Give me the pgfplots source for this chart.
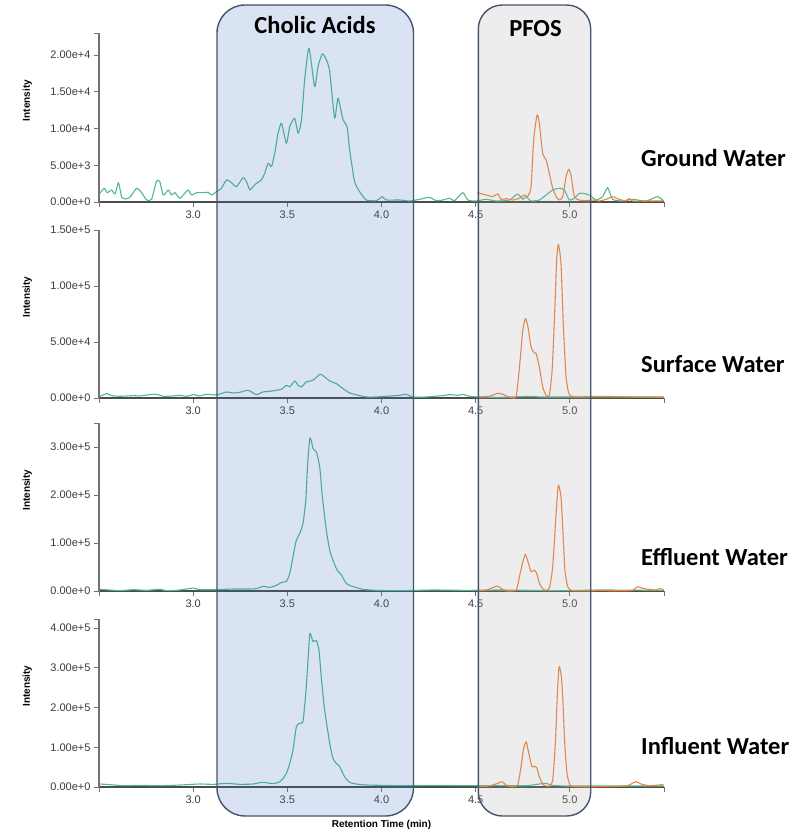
\documentclass[border=0pt]{standalone}
\usepackage{pgfplots}
\pgfplotsset{compat=1.18}
\usepackage{fontspec}
\setmainfont{Liberation Sans}
\newfontfamily\calibri{Carlito}
\definecolor{grn}{RGB}{78,184,148}
\definecolor{org}{RGB}{236,130,62}
\definecolor{boxblue}{RGB}{68,114,196}
\definecolor{boxgray}{RGB}{165,165,165}
\definecolor{boxedge}{RGB}{68,84,106}
\definecolor{axgray}{RGB}{115,115,115}
\definecolor{txtgray}{RGB}{60,60,60}
\pgfplotsset{
 chrom/.style={
  scale only axis, width=565pt,
  xmin=2.5, xmax=5.5, ymin=0,
  axis lines=left,
  axis line style={-, axgray, line width=1.2pt},
  x axis line style={black!70},
  scaled y ticks=false, scaled x ticks=false,
  xtick={3.0,3.5,4.0,4.5,5.0},
  xticklabels={3.0,3.5,4.0,4.5,5.0},
  extra x ticks={2.5,5.5}, extra x tick labels={{},{}},
  tick align=outside, major tick length=5pt,
  tick style={axgray, line width=1pt},
  ticklabel style={font=\fontsize{11}{13}\selectfont, text=txtgray},
  ylabel={Intensity},
  ylabel style={at={(axis description cs:-0.127,0.6)}, anchor=center, font=\bfseries\fontsize{10}{12}\selectfont},
  every axis plot/.append style={line width=1.1pt, line join=round, smooth, tension=0.35},
 }
}
\begin{document}
\begin{tikzpicture}
\useasboundingbox (0,0) rectangle (796pt,-832pt);
% Panel 1: Ground Water
\begin{axis}[chrom, at={(99pt,-202pt)}, anchor=south west, height=169pt, ymax=23000,
  ytick={0,5000,10000,15000,20000},
  yticklabels={0.00e+0,5.00e+3,1.00e+4,1.50e+4,2.00e+4},
  extra y ticks={23000}, extra y tick labels={{}}]
\addplot[grn] coordinates {
(2.505,1181)(2.527,1863)(2.544,1272)(2.567,1635)(2.585,1090)(2.603,2635)(2.620,727)(2.638,409)(2.664,636)(2.700,1863)(2.726,1272)(2.753,273)(2.779,363)(2.806,2862)(2.823,2771)(2.841,954)(2.868,1635)(2.885,954)(2.903,1272)(2.929,500)(2.947,954)(2.974,1635)(2.991,954)(3.018,1272)(3.053,1272)(3.080,1317)(3.097,954)(3.124,1408)(3.150,1863)(3.177,2998)(3.203,2635)(3.230,2090)(3.265,3316)(3.283,2771)(3.301,1635)(3.318,2090)(3.336,2544)(3.362,2998)(3.380,3907)(3.398,5270)(3.416,4816)(3.433,6633)(3.451,9359)(3.469,10722)(3.495,7996)(3.513,10267)(3.539,11403)(3.557,9359)(3.575,11176)(3.592,16627)(3.615,20943)(3.645,15719)(3.663,18445)(3.686,20171)(3.707,19354)(3.725,17763)(3.751,11403)(3.769,14128)(3.796,11176)(3.817,10267)(3.831,7087)(3.857,2771)(3.884,1408)(3.919,273)(3.972,182)(4.004,727)(4.025,273)(4.096,273)(4.149,136)(4.202,363)(4.255,636)(4.290,182)(4.326,273)(4.361,500)(4.388,182)(4.432,1272)(4.458,273)(4.502,136)(4.556,363)(4.609,136)(4.679,273)(4.723,1090)(4.750,363)(4.768,727)(4.794,136)(4.838,273)(4.874,954)(4.909,1635)(4.944,1863)(4.971,1635)(4.997,273)(5.024,500)(5.050,1181)(5.086,1090)(5.112,818)(5.139,273)(5.174,727)(5.201,1953)(5.227,363)(5.280,136)(5.333,363)(5.404,136)(5.466,727)(5.498,136)};
\addplot[org] coordinates {
(4.508,1272)(4.556,954)(4.591,727)(4.617,1090)(4.635,363)(4.662,454)(4.697,273)(4.732,500)(4.759,954)(4.776,727)(4.794,2090)(4.808,8450)(4.826,11857)(4.838,10722)(4.856,6633)(4.874,5724)(4.891,3907)(4.909,1863)(4.927,727)(4.944,273)(4.962,727)(4.980,3453)(4.994,4452)(5.006,3680)(5.024,727)(5.050,273)(5.086,182)(5.121,273)(5.156,136)(5.192,363)(5.227,727)(5.262,363)(5.298,136)(5.315,500)(5.333,136)(5.404,136)(5.498,136)};
\end{axis}
% Panel 2: Surface Water
\begin{axis}[chrom, at={(99pt,-398pt)}, anchor=south west, height=168pt, ymax=150000,
  ytick={0,50000,100000,150000},
  yticklabels={0.00e+0,5.00e+4,1.00e+5,1.50e+5}]
\addplot[grn] coordinates {
(2.505,1521)(2.541,3906)(2.567,2117)(2.611,1521)(2.682,2117)(2.717,1819)(2.753,2714)(2.806,3310)(2.841,1521)(2.894,1819)(2.929,2415)(2.965,1521)(3.000,3012)(3.035,1819)(3.071,3310)(3.124,2714)(3.177,5397)(3.212,4503)(3.248,5099)(3.292,6889)(3.336,3012)(3.371,5397)(3.407,5994)(3.442,6889)(3.469,7783)(3.495,11361)(3.513,9870)(3.539,15238)(3.557,11361)(3.575,9870)(3.601,14343)(3.636,15834)(3.675,21202)(3.698,18817)(3.725,15238)(3.760,12852)(3.796,8379)(3.831,4503)(3.884,2117)(3.919,924)(3.972,924)(4.096,2415)(4.131,3310)(4.167,924)(4.237,924)(4.326,2117)(4.361,3012)(4.405,2415)(4.432,3310)(4.467,1521)(4.520,924)(4.626,626)(4.803,1521)(4.838,924)(4.980,924)(5.156,924)(5.498,924)};
\addplot[org] coordinates {
(4.508,924)(4.573,1521)(4.617,4205)(4.644,3310)(4.679,924)(4.715,1521)(4.736,33727)(4.750,60565)(4.764,71002)(4.776,65037)(4.794,45655)(4.807,41182)(4.821,39691)(4.838,27763)(4.856,9870)(4.874,2415)(4.891,2415)(4.906,24781)(4.920,78458)(4.930,123187)(4.939,137202)(4.953,120205)(4.966,63548)(4.980,18817)(4.997,3012)(5.033,924)(5.156,1521)(5.333,924)(5.498,626)};
\end{axis}
% Panel 3: Effluent Water
\begin{axis}[chrom, at={(99pt,-591pt)}, anchor=south west, height=168pt, ymax=350000,
  ytick={0,100000,200000,300000},
  yticklabels={0.00e+0,1.00e+5,2.00e+5,3.00e+5},
  extra y ticks={350000}, extra y tick labels={{}}]
\addplot[grn] coordinates {
(2.505,3465)(2.558,2079)(2.611,693)(2.682,2772)(2.753,1386)(2.823,3465)(2.859,693)(2.929,2079)(3.000,6237)(3.035,2772)(3.124,2772)(3.212,4158)(3.283,4158)(3.336,4851)(3.371,9702)(3.407,7623)(3.442,11781)(3.469,18018)(3.495,20097)(3.513,36729)(3.530,71379)(3.548,106029)(3.566,119889)(3.583,140679)(3.598,189189)(3.608,265419)(3.619,317394)(3.628,312543)(3.636,296604)(3.654,289674)(3.672,258489)(3.686,196119)(3.707,126819)(3.725,85239)(3.742,64449)(3.764,43659)(3.787,33264)(3.813,15939)(3.849,9009)(3.902,3465)(3.972,1386)(4.096,693)(4.273,2079)(4.449,1386)(4.626,2079)(4.803,1386)(4.980,693)(5.156,2079)(5.498,1386)};
\addplot[org] coordinates {
(4.508,693)(4.556,2079)(4.591,6930)(4.614,10395)(4.635,5544)(4.662,693)(4.715,2079)(4.736,36729)(4.753,64449)(4.764,76230)(4.778,60984)(4.794,40194)(4.812,43659)(4.824,36729)(4.842,12474)(4.865,2079)(4.891,5544)(4.909,50589)(4.927,161469)(4.939,220374)(4.953,196119)(4.962,133749)(4.974,43659)(4.989,9009)(5.015,693)(5.156,693)(5.316,693)(5.342,3465)(5.360,9009)(5.386,5544)(5.421,3465)(5.457,2079)(5.475,4851)(5.498,3465)};
\end{axis}
% Panel 4: Influent Water
\begin{axis}[chrom, at={(99pt,-787pt)}, anchor=south west, height=168pt, ymax=423000,
  ytick={0,100000,200000,300000,400000},
  yticklabels={0.00e+0,1.00e+5,2.00e+5,3.00e+5,4.00e+5},
  extra y ticks={423000}, extra y tick labels={{}},
  xlabel={Retention Time (min)},
  xlabel style={at={(axis description cs:0.5,-0.226)}, anchor=center, font=\bfseries\fontsize{10}{12}\selectfont}]
\addplot[grn] coordinates {
(2.505,7560)(2.558,5880)(2.629,3360)(2.717,4200)(2.806,3360)(2.894,4200)(2.965,5880)(3.035,7560)(3.106,6720)(3.177,9240)(3.248,6720)(3.318,7560)(3.362,11760)(3.389,10920)(3.425,8400)(3.460,13440)(3.478,21840)(3.495,34440)(3.513,59640)(3.530,93240)(3.548,152040)(3.566,160440)(3.583,164640)(3.598,236040)(3.610,320040)(3.619,385560)(3.628,378840)(3.636,366240)(3.654,368760)(3.668,345240)(3.680,278040)(3.698,194040)(3.725,110040)(3.742,72240)(3.760,59640)(3.778,51240)(3.804,26040)(3.831,11760)(3.866,7560)(3.919,5040)(4.096,3360)(4.273,4200)(4.449,3360)(4.626,3360)(4.768,3360)(4.838,7560)(4.874,9240)(4.909,4200)(4.980,2520)(5.156,2520)(5.498,2520)};
\addplot[org] coordinates {
(4.508,840)(4.573,2520)(4.617,9240)(4.640,13440)(4.662,5040)(4.697,840)(4.723,5040)(4.741,51240)(4.753,93240)(4.768,114240)(4.782,84840)(4.799,51240)(4.812,52920)(4.826,47040)(4.838,26040)(4.860,5040)(4.891,2520)(4.909,17640)(4.923,110040)(4.934,236040)(4.943,303240)(4.955,278040)(4.962,227640)(4.973,110040)(4.985,34440)(5.001,5040)(5.033,840)(5.156,840)(5.298,2520)(5.325,7560)(5.351,13440)(5.378,7560)(5.421,3360)(5.475,5040)(5.498,6720)};
\end{axis}
% Highlight boxes
\fill[boxblue, fill opacity=0.2, rounded corners=28pt] (217pt,-5pt) rectangle (413.5pt,-816pt);
\draw[boxedge, line width=1.4pt, rounded corners=28pt] (217pt,-5pt) rectangle (413.5pt,-816pt);
\fill[boxgray, fill opacity=0.2, rounded corners=24pt] (478.3pt,-5pt) rectangle (590.7pt,-816pt);
\draw[boxedge, line width=1.4pt, rounded corners=24pt] (478.3pt,-5pt) rectangle (590.7pt,-816pt);
\node[anchor=base, inner sep=0pt, font=\calibri\bfseries\fontsize{24.5}{28}\selectfont] at (315pt,-34pt) {Cholic Acids};
\node[anchor=base, inner sep=0pt, font=\calibri\bfseries\fontsize{24.5}{28}\selectfont] at (535.5pt,-36.5pt) {PFOS};
\node[anchor=base west, inner sep=0pt, font=\calibri\bfseries\fontsize{24.5}{28}\selectfont] at (641pt,-166pt) {Ground Water};
\node[anchor=base west, inner sep=0pt, font=\calibri\bfseries\fontsize{24.5}{28}\selectfont] at (641pt,-372pt) {Surface Water};
\node[anchor=base west, inner sep=0pt, font=\calibri\bfseries\fontsize{24.5}{28}\selectfont] at (641pt,-565.5pt) {Effluent Water};
\node[anchor=base west, inner sep=0pt, font=\calibri\bfseries\fontsize{24.5}{28}\selectfont] at (641pt,-754pt) {Influent Water};
\end{tikzpicture}
\end{document}
